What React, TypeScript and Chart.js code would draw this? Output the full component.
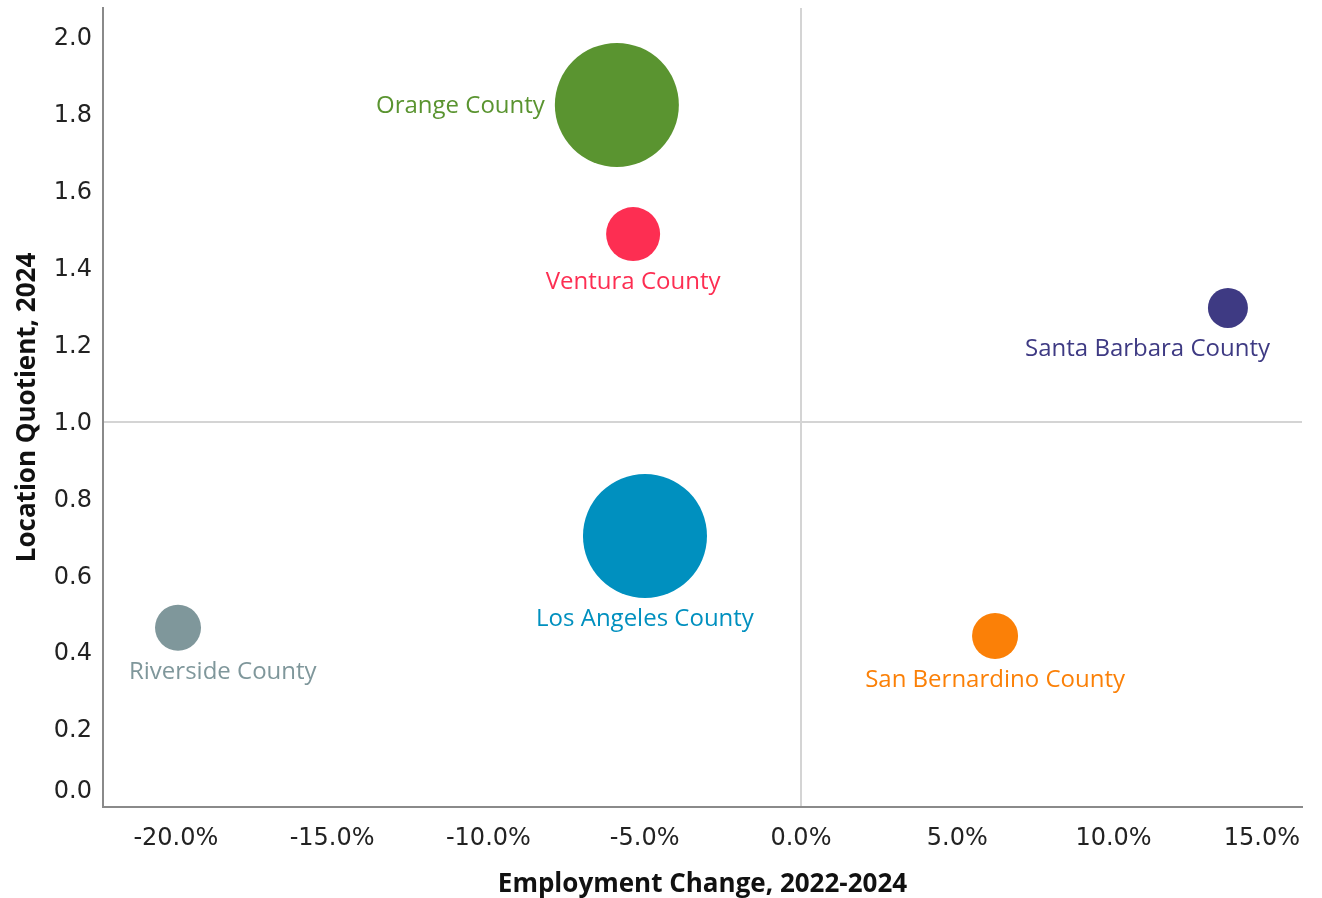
import React, { useEffect, useRef } from 'react';
import { Chart, registerables, BubbleController } from 'chart.js';

Chart.register(...registerables);

// Bubble controller that does not force extra layout padding for bubble radii
class FlatBubbleController extends (BubbleController as any) {
  getMaxOverflow() {
    return 0;
  }
}
(FlatBubbleController as any).id = 'flatBubble';
(FlatBubbleController as any).defaults = (BubbleController as any).defaults;
(FlatBubbleController as any).overrides = (BubbleController as any).overrides;
Chart.register(FlatBubbleController as any);

const counties = [
  'Orange County',
  'Ventura County',
  'Santa Barbara County',
  'Los Angeles County',
  'Riverside County',
  'San Bernardino County',
];
const employmentChange = [-5.89, -5.37, 13.66, -4.99, -19.93, 6.21];
const locationQuotient = [1.826, 1.49, 1.298, 0.705, 0.466, 0.445];
const bubbleRadius = [62, 27, 20, 62, 23, 23];
const countyColors = ['#5a9430', '#fd2e52', '#3e3a83', '#0090bf', '#7f979b', '#fb8007'];
const labelPlacement = ['left', 'below', 'below', 'below', 'below', 'below'];
const xTicks = [-20, -15, -10, -5, 0, 5, 10, 15];
const yTicks = [0, 0.2, 0.4, 0.6, 0.8, 1.0, 1.2, 1.4, 1.6, 1.8, 2.0];

const X_MIN = -22.33;
const X_MAX = 16.03;
const Y_MIN = 0;
const Y_MAX = 2.078;

const TICK_FONT = '24px "DejaVu Sans"';
const LABEL_FONT = '24px "Open Sans"';

const tickLabelPlugin = {
  id: 'tickLabels',
  afterDraw(chart: any) {
    const { ctx, chartArea, scales } = chart;
    const x = scales.x;
    const y = scales.y;
    ctx.save();
    ctx.font = TICK_FONT;
    ctx.fillStyle = '#222222';
    ctx.textBaseline = 'middle';
    ctx.textAlign = 'center';
    xTicks.forEach((v) => {
      const label = v.toFixed(1) + '%';
      const w = ctx.measureText(label).width;
      let px = x.getPixelForValue(v);
      px = Math.min(px, chartArea.right - w / 2 - 2);
      px = Math.max(px, chartArea.left + w / 2);
      ctx.fillText(label, px, chartArea.bottom + 32);
    });
    ctx.textAlign = 'right';
    yTicks.forEach((v) => {
      let py = y.getPixelForValue(v);
      py = Math.min(py, chartArea.bottom - 16);
      py = Math.max(py, chartArea.top + 15);
      ctx.fillText(v.toFixed(1), chartArea.left - 11, py + 1);
    });
    ctx.restore();
  },
};

const dataLabelPlugin = {
  id: 'bubbleLabels',
  afterDatasetsDraw(chart: any) {
    const { ctx, chartArea } = chart;
    const meta = chart.getDatasetMeta(0);
    ctx.save();
    ctx.font = LABEL_FONT;
    ctx.textBaseline = 'middle';
    meta.data.forEach((el: any, i: number) => {
      const { x, y } = el.getProps(['x', 'y'], true);
      const r = el.options.radius;
      const text = counties[i];
      const w = ctx.measureText(text).width;
      ctx.fillStyle = countyColors[i];
      if (labelPlacement[i] === 'left') {
        ctx.textAlign = 'right';
        ctx.fillText(text, x - r - 10, y + 1);
      } else {
        let cx = x;
        cx = Math.min(cx, chartArea.right - 32 - w / 2);
        cx = Math.max(cx, chartArea.left + 26 + w / 2);
        ctx.textAlign = 'center';
        ctx.fillText(text, cx, y + r + 21);
      }
    });
    ctx.restore();
  },
};

export default function App() {
  const canvasRef = useRef<HTMLCanvasElement | null>(null);

  useEffect(() => {
    document.body.style.margin = '0';
    const canvas = canvasRef.current;
    if (!canvas) return;
    const chart = new Chart(canvas, {
      type: 'flatBubble' as any,
      data: {
        datasets: [
          {
            label: 'Counties',
            data: counties.map((_, i) => ({
              x: employmentChange[i],
              y: locationQuotient[i],
              r: bubbleRadius[i],
            })),
            backgroundColor: countyColors,
            borderWidth: 0,
            hoverBorderWidth: 0,
          },
        ],
      },
      options: {
        animation: false,
        responsive: true,
        maintainAspectRatio: false,
        events: [],
        layout: { padding: { top: 8, right: 20, left: 0, bottom: 0 } },
        plugins: {
          legend: { display: false },
          tooltip: { enabled: false },
        },
        scales: {
          x: {
            type: 'linear',
            position: 'bottom',
            min: X_MIN,
            max: X_MAX,
            afterBuildTicks: (scale: any) => {
              scale.ticks = xTicks.map((v) => ({ value: v }));
            },
            afterFit: (scale: any) => {
              scale.height = 91;
            },
            ticks: { display: false },
            grid: {
              drawTicks: false,
              lineWidth: 2,
              color: (c: any) => (c.tick && c.tick.value === 0 ? '#d4d4d4' : 'rgba(0,0,0,0)'),
            },
            border: { display: true, color: '#8a8a8a', width: 2 },
            title: {
              display: true,
              text: 'Employment Change, 2022-2024',
              color: '#111111',
              font: { family: '"Open Sans"', size: 26, weight: 'bold' },
              padding: { top: 0, bottom: -2 },
            },
          },
          y: {
            type: 'linear',
            position: 'left',
            min: Y_MIN,
            max: Y_MAX,
            afterBuildTicks: (scale: any) => {
              scale.ticks = yTicks.map((v) => ({ value: v }));
            },
            afterFit: (scale: any) => {
              scale.width = 103;
            },
            ticks: { display: false },
            grid: {
              drawTicks: false,
              lineWidth: 2,
              color: (c: any) => (c.tick && Math.abs(c.tick.value - 1) < 1e-9 ? '#d4d4d4' : 'rgba(0,0,0,0)'),
            },
            border: { display: true, color: '#8a8a8a', width: 2 },
            title: {
              display: true,
              text: 'Location Quotient, 2024',
              color: '#111111',
              font: { family: '"Open Sans"', size: 26, weight: 'bold' },
              padding: { top: 12, bottom: 0 },
            },
          },
        },
      },
      plugins: [tickLabelPlugin, dataLabelPlugin],
    });
    return () => chart.destroy();
  }, []);

  return (
    <div style={{ width: 1322, height: 898, position: 'relative', background: '#ffffff' }}>
      <canvas ref={canvasRef} />
    </div>
  );
}
